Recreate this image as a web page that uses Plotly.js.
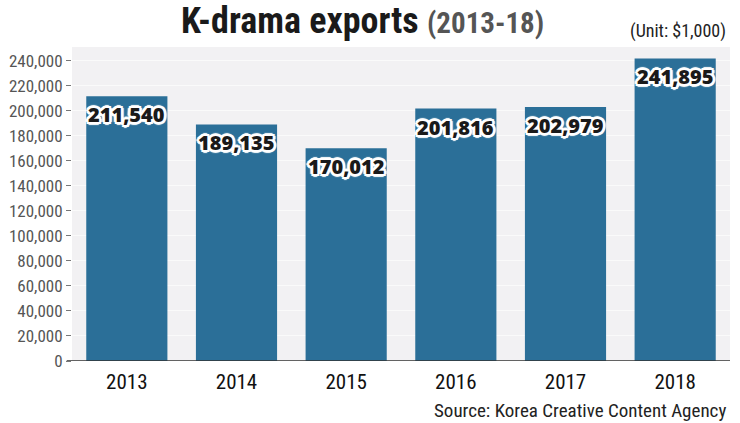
<!DOCTYPE html>
<html>
<head>
<meta charset="utf-8">
<script src="https://cdn.plot.ly/plotly-3.0.1.min.js"></script>
<style>html,body{margin:0;padding:0;background:#fff;}#chart{width:740px;height:423px;}</style>
</head>
<body>
<div id="chart"></div>
<script>
var years = ['2013', '2014', '2015', '2016', '2017', '2018'];
var exportsK = [211540, 189135, 170012, 201816, 202979, 241895];
var tickVals = [0, 20000, 40000, 60000, 80000, 100000, 120000, 140000, 160000, 180000, 200000, 220000, 240000];
var tickText = ['0', '20,000', '40,000', '60,000', '80,000', '100,000', '120,000', '140,000', '160,000', '180,000', '200,000', '220,000', '240,000'];
var labelText = exportsK.map(function (v) { return v.toLocaleString('en-US'); });

var narrow = '"Liberation Sans Narrow", "Roboto Condensed", "Arial Narrow", sans-serif';
var halo = '2px 0 0 #fff, -2px 0 0 #fff, 0 2px 0 #fff, 0 -2px 0 #fff, 2px 2px 0 #fff, -2px -2px 0 #fff, 2px -2px 0 #fff, -2px 2px 0 #fff, 3px 0 1px #fff, -3px 0 1px #fff, 0 3px 1px #fff, 0 -3px 1px #fff';

var xIdx = years.map(function (y, i) { return i; });

var trace = {
  type: 'bar',
  x: xIdx,
  y: exportsK,
  width: 0.74,
  marker: {color: '#2b6f98', line: {width: 0}},
  hoverinfo: 'none'
};

var annotations = xIdx.map(function (xi, i) {
  return {
    x: xi, y: exportsK[i], xref: 'x', yref: 'y',
    text: labelText[i], showarrow: false,
    yanchor: 'top', yshift: -3,
    font: {family: '"Open Sans", "Noto Sans", sans-serif', size: 20, weight: 800, color: '#1a1a1a', shadow: halo}
  };
});
annotations.push({
  xref: 'paper', yref: 'paper', x: 0.997, y: 1.05, xanchor: 'right', yanchor: 'middle',
  text: '(Unit: $1,000)', showarrow: false,
  font: {family: narrow, size: 18, color: '#222'}
});
annotations.push({
  xref: 'paper', yref: 'paper', x: 0.997, y: -0.158, xanchor: 'right', yanchor: 'middle',
  text: 'Source: Korea Creative Content Agency', showarrow: false,
  font: {family: narrow, size: 19, color: '#222'}
});

var layout = {
  width: 740, height: 423,
  margin: {l: 72, r: 10, t: 47, b: 62, pad: 0},
  paper_bgcolor: '#ffffff',
  plot_bgcolor: '#f2f1f3',
  showlegend: false,
  title: {
    text: '<b>K-drama exports</b> <b><span style="color:#555;font-size:29px">(2013-18)</span></b>',
    font: {family: narrow, size: 36, color: '#1a1a1a'},
    x: 0.49, xanchor: 'center', xref: 'container',
    y: 0.952, yanchor: 'middle', yref: 'container'
  },
  xaxis: {
    type: 'linear',
    range: [-0.5, 5.5],
    tickvals: xIdx,
    ticktext: years,
    showgrid: false,
    showline: false,
    zeroline: false,
    ticks: '',
    tickfont: {family: narrow, size: 21, color: '#111'},
    ticklabelstandoff: 6,
    fixedrange: true
  },
  yaxis: {
    range: [0, 251000],
    tickvals: tickVals,
    ticktext: tickText,
    ticks: 'outside', ticklen: 5, tickcolor: '#777', tickwidth: 1,
    tickfont: {family: narrow, size: 17, color: '#555'},
    showgrid: true, gridcolor: '#fafafa', gridwidth: 1,
    zeroline: false, showline: false,
    fixedrange: true
  },
  shapes: [{
    type: 'line', xref: 'paper', yref: 'y', x0: -0.008, x1: 1, y0: 0, y1: 0,
    line: {color: '#333', width: 1.5}
  }],
  annotations: annotations
};

Plotly.newPlot('chart', [trace], layout, {displayModeBar: false, staticPlot: true});
</script>
</body>
</html>
